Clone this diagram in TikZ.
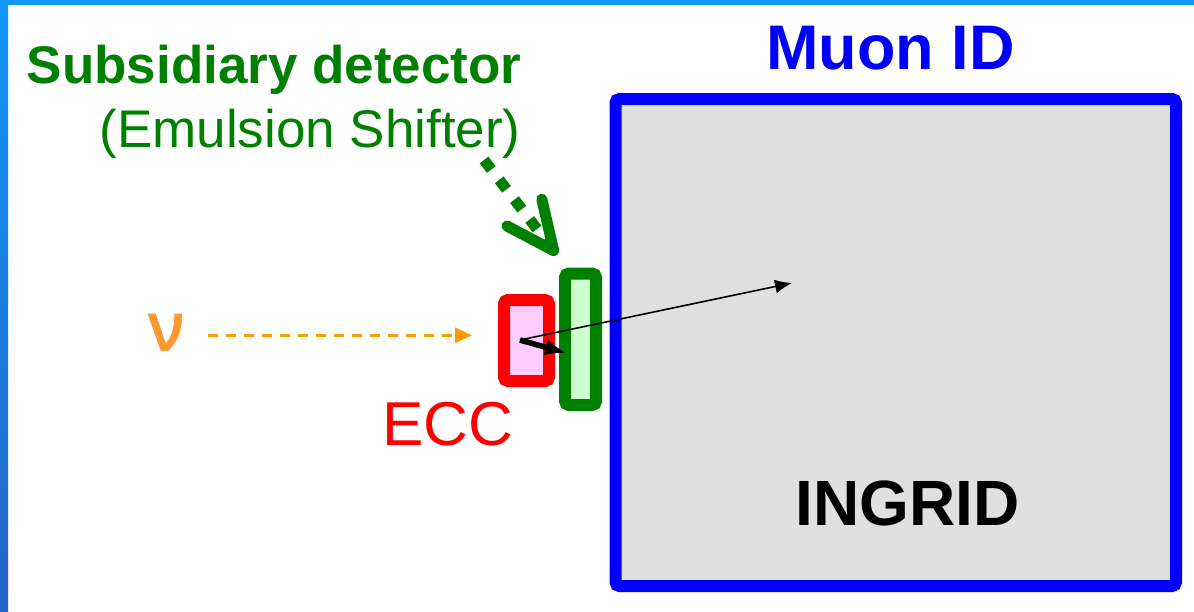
\documentclass[tikz,border=0pt]{standalone}
\usepackage{fontspec}
\setmainfont{Liberation Sans}
\newfontfamily\nufont[AutoFakeBold=3]{Noto Sans}
\usepackage{xcolor}
\usetikzlibrary{arrows.meta,positioning}

\definecolor{frametop}{HTML}{1296F8}
\definecolor{framebot}{HTML}{2565C8}
\definecolor{detgreen}{HTML}{008000}
\definecolor{nuorange}{HTML}{FF9933}
\definecolor{beamorange}{HTML}{FF9900}
\definecolor{ingridgray}{HTML}{E0E0E0}

\begin{document}
\begin{tikzpicture}[
		x=0.5pt, y=-0.5pt,
		>=Latex,
		detbox/.style={draw, line width=6pt, rounded corners=2pt, inner sep=0pt},
		lbl/.style={inner sep=0pt, anchor=base},
		track/.style={->, black, line width=0.8pt, >={Latex[length=8.5pt,width=7pt]}},
		beam/.style={->, beamorange, line width=1.5pt, dash pattern=on 5pt off 4pt, >={Triangle[length=8.5pt,width=7.5pt]}},
		pointer/.style={detgreen, line width=5.5pt, dash pattern=on 6pt off 6.5pt, -{Straight Barb[length=24pt,width=22pt,round]}}
		]
		
		% Frame of the slide
		\useasboundingbox (0,0) rectangle (1194,611);
		\fill[frametop] (0,0) rectangle (1194,5);
		\shade[top color=frametop, bottom color=framebot] (0,0) rectangle (8,611);
		
		% Detectors
		\node[detbox, draw=blue, fill=ingridgray, minimum width=280.25pt, minimum height=243.5pt] (ingrid) at (895.75,342.5) {};
		\node[detbox, draw=red, fill={rgb,255:red,255;green,204;blue,255}, minimum width=22.5pt, minimum height=40.5pt] (ecc) at (526.5,340.5) {};
		\node[detbox, draw=detgreen, fill={rgb,255:red,204;green,255;blue,204}, minimum width=15.5pt, minimum height=65.75pt] (shifter) at (580.5,339.25) {};
		
		% Labels
		\node[lbl, font=\bfseries\fontsize{31.5}{36}\selectfont, text=blue] (muonid) at (890.5,69) {Muon ID};
		\node[lbl, font=\bfseries\fontsize{32}{36}\selectfont] (ingridlbl) at (907.5,525) {INGRID};
		\node[lbl, font=\fontsize{31}{36}\selectfont, text=red] (ecclbl) at (448,445) {ECC};
		\node[lbl, anchor=base east, font=\bfseries\fontsize{26.5}{30}\selectfont, text=detgreen] (subsid) at (522,83) {Subsidiary detector};
		\node[lbl, anchor=base east, font=\fontsize{26.5}{30}\selectfont, text=detgreen] (emshift) at (521,147) {(Emulsion Shifter)};
		\node[lbl, font=\nufont\bfseries\fontsize{33}{36}\selectfont, text=nuorange] (nu) at (166,350) {ν};
		
		% Track points
		\coordinate (vtx) at (520,340);
		\coordinate (muend) at (792,283);
		\coordinate (shhit) at (566,353);
		\coordinate (ptail) at (484,160);
		\coordinate (phead) at (557,255);
		
		% Incoming neutrino
		\draw[beam, shorten <=12.5pt, shorten >=13pt] ([yshift=-1.5pt]nu.east) -- ([yshift=-1.5pt]nu.east -| ecc.west);
		
		% Tracks from the vertex
		\draw[track] (vtx) -- (muend);
		\draw[track, line width=2.8pt, >={Latex[length=10.5pt,width=8.5pt]}] (vtx) -- (shhit);
		
		% Pointer to the shifter
		\draw[pointer] (ptail) -- (phead);
		
	\end{tikzpicture}
\end{document}
